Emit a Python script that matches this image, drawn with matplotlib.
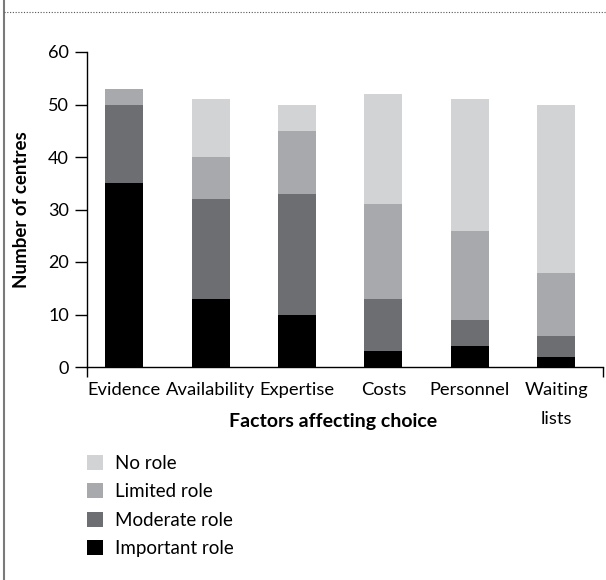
import matplotlib
matplotlib.use("Agg")
import matplotlib.pyplot as plt
from matplotlib.patches import Patch
from matplotlib.lines import Line2D
import numpy as np

plt.rcParams['font.family'] = ['Lato', 'DejaVu Sans']

# data
factors = ["Evidence", "Availability", "Expertise", "Costs", "Personnel", "Waiting\nlists"]
important = [35, 13, 10, 3, 4, 2]
moderate = [15, 19, 23, 10, 5, 4]
limited = [3, 8, 12, 18, 17, 12]
no_role = [0, 11, 5, 21, 25, 32]

roles = ["No role", "Limited role", "Moderate role", "Important role"]
colours = ["#d1d3d4", "#a7a9ac", "#6d6e71", "#000000"]

fig = plt.figure(figsize=(6.06, 5.80), dpi=100)
ax = fig.add_axes([87/606, 1 - 367/580, 516/606, 315/580])

x = np.arange(len(factors))
w = 0.44
bottom = np.zeros(len(factors))
# stack from the bottom: important, moderate, limited, no role
for vals, col in zip([important, moderate, limited, no_role], colours[::-1]):
    ax.bar(x, vals, w, bottom=bottom, color=col, linewidth=0)
    bottom += np.array(vals)

xlim = (-0.43, 5.54)
ax.set_xlim(xlim)
ax.set_ylim(0, 60)
ax.set_yticks([0, 10, 20, 30, 40, 50, 60])
ax.set_xticks(x)
ax.set_xticklabels(factors, fontsize=13.2, va="top", linespacing=2.0)
ax.set_xticks(list(xlim), minor=True)
ax.tick_params(axis="x", which="major", length=0, pad=11)
ax.tick_params(axis="x", which="minor", length=7, width=1, direction="out")
ax.tick_params(axis="y", length=9, width=1, pad=4, labelsize=13)

for s in ["top", "right"]:
    ax.spines[s].set_visible(False)
for s in ["left", "bottom"]:
    ax.spines[s].set_linewidth(1)

ax.set_ylabel("Number of centres", fontsize=13.5, fontweight="bold", va="center")
ax.yaxis.set_label_coords(-0.126, 0.5)
ax.set_xlabel("Factors affecting choice", fontsize=14, fontweight="bold", va="center")
ax.xaxis.set_label_coords(0.477, -0.172)

handles = [Patch(facecolor=c, edgecolor="none") for c in colours]
fig.legend(handles, roles, loc="upper left", bbox_to_anchor=(87/606, 1 - 455/580),
           frameon=False, fontsize=13.5, handlelength=0.86, handleheight=0.86,
           handletextpad=0.65, labelspacing=0.6, borderpad=0, borderaxespad=0)

# page decorations: left rule and dotted rule under the cut-off caption
fig.add_artist(Line2D([4/606, 4/606], [0, 1], color="#7a7a7a", lw=1.5))
fig.add_artist(Line2D([4/606, 1], [1 - 12/580, 1 - 12/580], color="#555555",
                      lw=0.8, linestyle=(0, (1, 1.5))))

fig.savefig("out.png", dpi=100)
